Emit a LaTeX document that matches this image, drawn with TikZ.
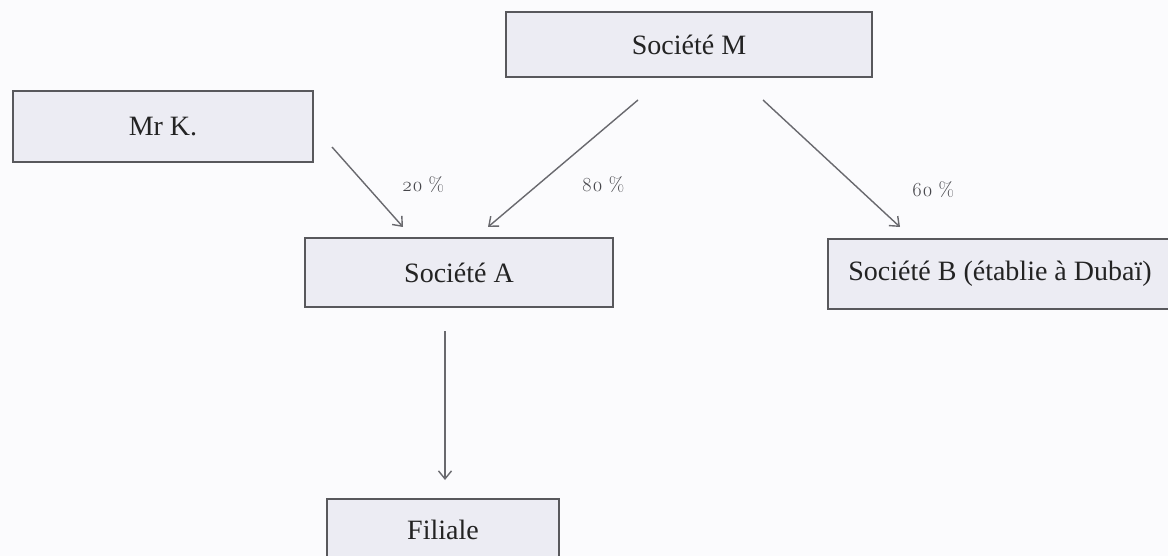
\documentclass[tikz,border=0pt]{standalone}
\usepackage{fontspec}
\setmainfont{Liberation Serif}
\newfontfamily\labfont[Numbers=OldStyle]{Latin Modern Roman}
\usetikzlibrary{arrows.meta}
\definecolor{bgc}{RGB}{251,251,253}
\definecolor{boxfill}{RGB}{236,236,243}
\definecolor{boxline}{RGB}{88,88,92}
\definecolor{arrowc}{RGB}{105,105,110}
\definecolor{labc}{RGB}{70,70,75}
\definecolor{txtc}{RGB}{35,35,35}
\tikzset{
  entity/.style={draw=boxline, fill=boxfill, line width=1.8pt, inner sep=0pt,
    font=\fontsize{28}{32}\selectfont, text=txtc},
  link/.style={draw=arrowc, line width=1.4pt,
    -{Straight Barb[length=8pt,width=13pt,line width=1.4pt]}},
  pct/.style={font=\labfont\fontsize{20}{22}\selectfont, text=labc}
}
\begin{document}
\begin{tikzpicture}[x=1pt,y=-1pt]
\useasboundingbox (0,0) rectangle (1168,556);
\fill[bgc] (0,0) rectangle (1168,556);
\node[entity, minimum width=366pt, minimum height=65pt] (M) at (689,44.5) {Société M};
\node[entity, minimum width=300pt, minimum height=71pt] (K) at (163,126.5) {Mr K.};
\node[entity, minimum width=308pt, minimum height=69pt] (A) at (459,272.5) {Société A};
\node[entity, minimum width=344pt, minimum height=70pt] (B) at (1000,274) {Société B (établie à Dubaï)};
\node[entity, minimum width=232pt, minimum height=62pt] (F) at (443,530) {Filiale};
\coordinate (k1) at (332,147); \coordinate (a1) at (403,227);
\coordinate (m1) at (638,100); \coordinate (a2) at (488,227);
\coordinate (m2) at (763,100); \coordinate (b1) at (900,227);
\coordinate (a3) at (445,331); \coordinate (f1) at (445,480);
\draw[link] (k1) -- (a1);
\draw[link] (m1) -- (a2);
\draw[link] (m2) -- (b1);
\draw[link] (a3) -- (f1);
\node[pct] (l20) at (423,185) {20~\%};
\node[pct] (l80) at (603,185) {80~\%};
\node[pct] (l60) at (933,190) {60~\%};
\end{tikzpicture}
\end{document}
